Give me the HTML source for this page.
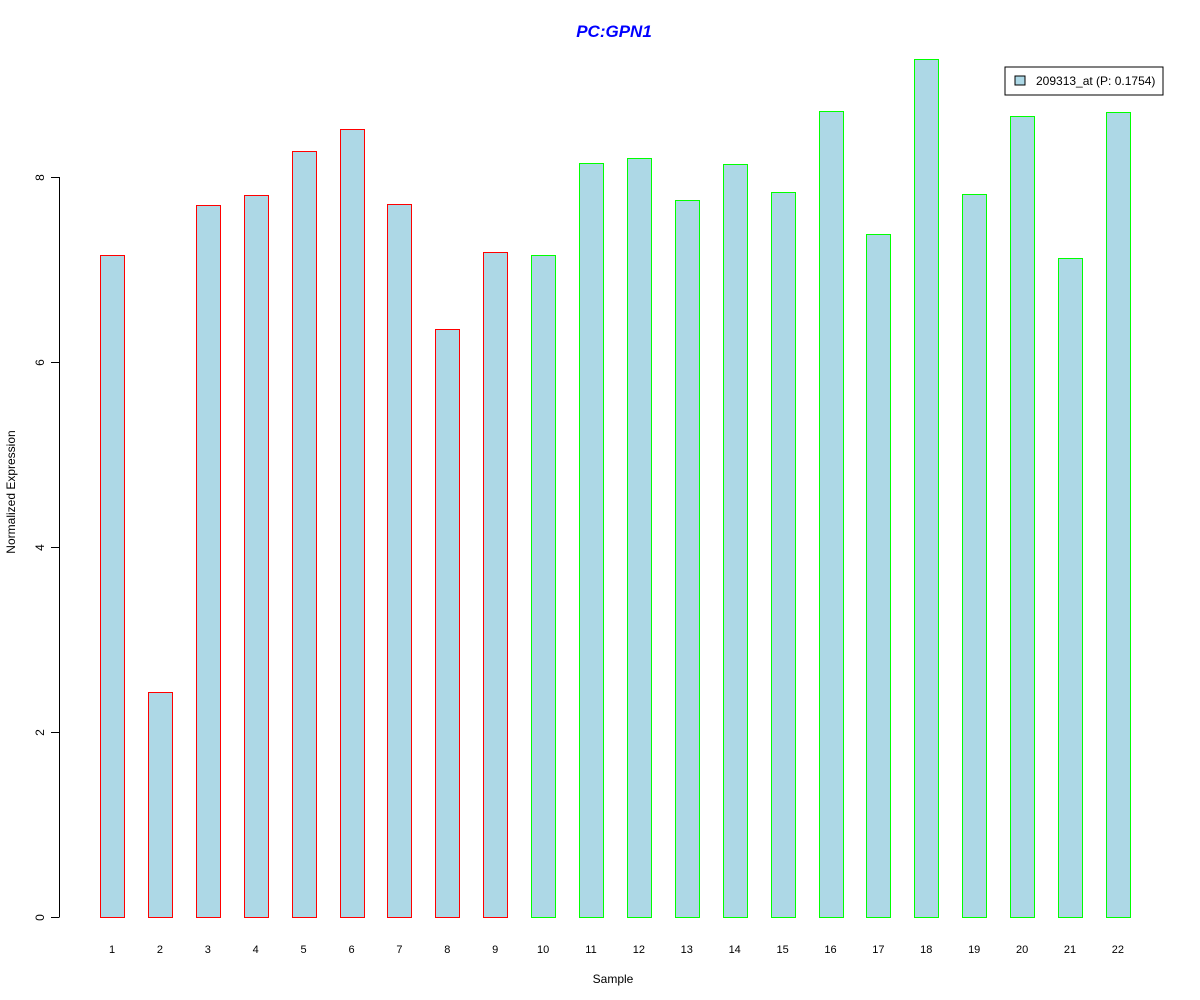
<!DOCTYPE html>
<html><head><meta charset="utf-8"><style>
body{margin:0;background:#fff;}
svg{display:block;font-family:"Liberation Sans",Arial,sans-serif;}
</style></head><body>
<svg id="chart" width="1200" height="1000">
<text x="614" y="37" text-anchor="middle" font-size="17" font-weight="bold" font-style="italic" fill="#0000ff">PC:GPN1</text>
<text x="613" y="983" text-anchor="middle" font-size="12">Sample</text>
<text transform="translate(15,492) rotate(-90)" text-anchor="middle" font-size="12">Normalized Expression</text>
<g id="yaxis"></g>
<g id="bars"></g>
<g id="xlabels"></g>
<g>
<rect x="1005" y="67" width="158" height="28" fill="#fff" stroke="#000" stroke-width="1"/>
<rect x="1015" y="76" width="10" height="9" fill="#add8e6" stroke="#000" stroke-width="1"/>
<text x="1036" y="85" font-size="12">209313_at (P: 0.1754)</text>
</g>
</svg>
<script>
const categories = ["1","2","3","4","5","6","7","8","9","10","11","12","13","14","15","16","17","18","19","20","21","22"];
const values = [7.16,2.43,7.70,7.81,8.28,8.52,7.71,6.36,7.19,7.16,8.15,8.21,7.75,8.14,7.84,8.71,7.38,9.28,7.82,8.66,7.12,8.70];
const groups = ["a","a","a","a","a","a","a","a","a","b","b","b","b","b","b","b","b","b","b","b","b","b"];
const yTicks = [0,2,4,6,8];
const NS="http://www.w3.org/2000/svg";
const y0=917, pxPerUnit=92.5;
function yScale(v){return y0 - v*pxPerUnit;}
function xScale(i){return 112 + i*47.9;}
function mk(tag,attrs,parent){const e=document.createElementNS(NS,tag);for(const k in attrs)e.setAttribute(k,attrs[k]);parent.appendChild(e);return e;}
const ya=document.getElementById('yaxis');
const axl=mk('line',{x1:59.5,x2:59.5,y1:yScale(yTicks[yTicks.length-1]),y2:yScale(yTicks[0]),stroke:'#000'},ya);


yTicks.forEach(t=>{
  const y=Math.round(yScale(t))+0.5;
  const l=mk('line',{x1:51,x2:59.5,y1:y,y2:y,stroke:'#000'},ya);
  
  
  const tx=mk('text',{transform:`translate(44,${y}) rotate(-90)`,'text-anchor':'middle','font-size':12},ya);
  tx.textContent=t;
  
  
});
const bg=document.getElementById('bars'), xl=document.getElementById('xlabels');
values.forEach((v,i)=>{
  const cx=xScale(i);
  const top=yScale(v);
  const r=mk('rect',{x:Math.round(cx-12)+0.5,y:Math.round(top)+0.5,width:24,height:Math.round(y0-top),fill:'#add8e6',stroke:groups[i]==='a'?'#ff0000':'#00ff00'},bg);
  
  
  const t=mk('text',{x:cx,y:953,'text-anchor':'middle','font-size':11},xl);
  t.textContent=categories[i];
  
  
});
</script>
</body></html>
